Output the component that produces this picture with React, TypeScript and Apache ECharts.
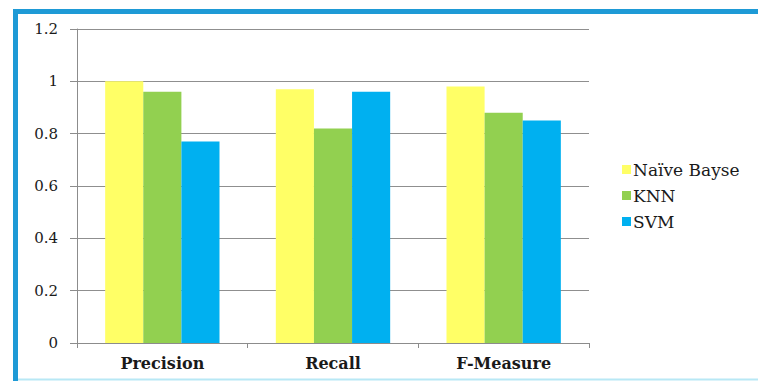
import React, { useEffect, useRef } from "react";
import * as echarts from "echarts";

const categories = ["Precision", "Recall", "F-Measure"];
const seriesNames = ["Naïve Bayse", "KNN", "SVM"];
const naiveBayes = [1.0, 0.97, 0.98];
const knn = [0.96, 0.82, 0.88];
const svm = [0.77, 0.96, 0.85];
const colors = ["#FFFF66", "#92D050", "#00B0F0"];

const FONT = "DejaVu Serif";

export default function App() {
  const ref = useRef<HTMLDivElement>(null);
  useEffect(() => {
    document.body.style.margin = "0";
    const chart = echarts.init(ref.current!, null, { renderer: "svg" });
    const values = [naiveBayes, knn, svm];
    chart.setOption({
      animation: false,
      backgroundColor: "#ffffff",
      grid: { left: 77, right: 169, top: 29, bottom: 38 },
      legend: {
        orient: "vertical",
        left: 617,
        top: 156,
        icon: "rect",
        itemWidth: 9,
        itemHeight: 9,
        itemGap: 9,
        textStyle: { fontFamily: FONT, fontSize: 17, color: "#1a1a1a", padding: [0, 0, 0, -3] },
        data: seriesNames,
      },
      xAxis: {
        type: "category",
        data: categories,
        axisLine: { show: true, lineStyle: { color: "#8c8c8c", width: 1 } },
        axisTick: { show: true, length: 5, alignWithLabel: false, lineStyle: { color: "#8c8c8c" } },
        axisLabel: {
          margin: 12,
          fontFamily: FONT,
          fontWeight: "bold",
          fontSize: 16,
          color: "#1a1a1a",
        },
      },
      yAxis: {
        type: "value",
        min: 0,
        max: 1.2,
        interval: 0.2,
        axisLine: { show: true, lineStyle: { color: "#8c8c8c", width: 1 } },
        axisTick: { show: true, length: 7, lineStyle: { color: "#8c8c8c" } },
        splitLine: { show: true, lineStyle: { color: "#8f8f8f", width: 1 } },
        axisLabel: {
          margin: 19,
          fontFamily: FONT,
          fontSize: 15,
          color: "#1a1a1a",
        },
      },
      series: seriesNames.map((name, i) => ({
        name,
        type: "bar",
        data: values[i],
        barGap: "0%",
        barCategoryGap: "33%",
        itemStyle: { color: colors[i] },
      })),
      graphic: [
        {
          type: "line",
          shape: { x1: 13, y1: 11.5, x2: 758, y2: 11.5 },
          style: { stroke: "#1E9AD6", lineWidth: 5 },
          z: 100,
        },
        {
          type: "line",
          shape: { x1: 15.5, y1: 9, x2: 15.5, y2: 381 },
          style: { stroke: "#1E9AD6", lineWidth: 5 },
          z: 100,
        },
        {
          type: "line",
          shape: { x1: 18, y1: 379.5, x2: 758, y2: 379.5 },
          style: { stroke: "#B8E8F5", lineWidth: 2 },
          z: 100,
        },
      ],
    });
    return () => chart.dispose();
  }, []);
  return <div ref={ref} style={{ width: 758, height: 381 }} />;
}
